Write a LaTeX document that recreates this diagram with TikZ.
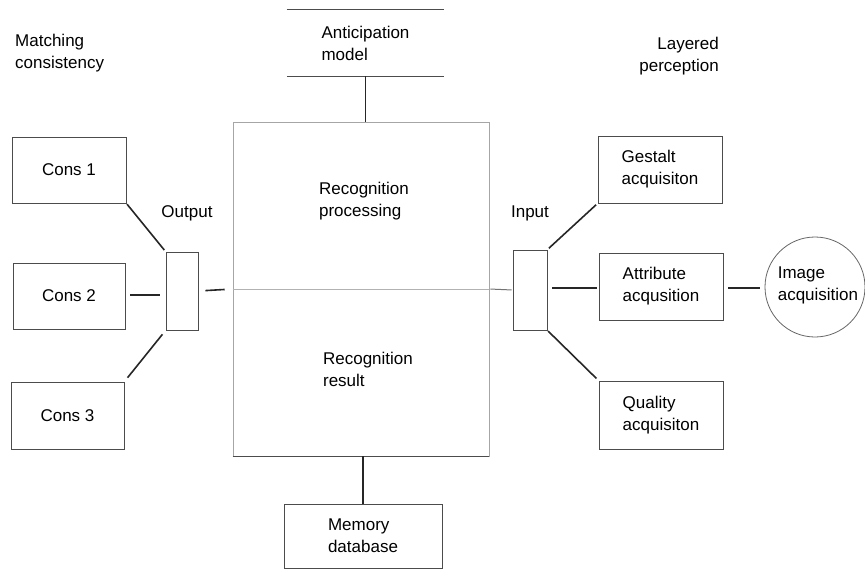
\documentclass[tikz,border=0pt]{standalone}
\usepackage{fontspec}
\setmainfont{Liberation Sans}
\begin{document}
\begin{tikzpicture}[x=1pt,y=-1pt,
  every node/.style={font=\fontsize{17}{22}\selectfont, inner sep=0pt},
  box/.style={draw=black!70, line width=0.8pt, align=left},
  conn/.style={draw=black!85, line width=1.6pt},
  thinconn/.style={draw=black!55, line width=1pt},
  lbl/.style={align=left}]
\useasboundingbox (0,0) rectangle (865,570);
% top anticipation model
\node[lbl, minimum width=157pt, minimum height=66pt] (ant) at (365.5,43) {Anticipation\\model};
\draw[black!70, line width=1pt] (ant.north west) -- (ant.north east);
\draw[black!70, line width=1pt] (ant.south west) -- (ant.south east);
% big recognition box
\node[draw=black!35, line width=0.6pt, minimum width=256pt, minimum height=334pt] (rec) at (361,289) {};
\draw[black!70, line width=1.5pt] (rec.south west) -- (rec.south east);
\draw[black!30, line width=0.6pt] (rec.west) -- (rec.east);
\node[lbl] (recp) at (364,201) {Recognition\\processing};
\node[lbl] (recr) at (368,369) {Recognition\\result};
% memory
\node[box, minimum width=158pt, minimum height=64pt] (mem) at (363,536) {Memory\\database};
% section titles
\node[lbl, anchor=west] (match) at (15,53) {Matching\\consistency};
\node[align=right, anchor=east] (layer) at (719,56) {Layered\\perception};
% cons boxes
\node[box, minimum width=114pt, minimum height=66pt] (c1) at (69,170) {Cons 1};
\node[box, minimum width=112pt, minimum height=66pt] (c2) at (69,296) {Cons 2};
\node[box, minimum width=113pt, minimum height=67pt] (c3) at (67.5,415.5) {Cons 3};
% output
\node[box, minimum width=32pt, minimum height=78pt] (out) at (182,291) {};
\node (outl) at (187,213) {Output};
% input
\node[box, minimum width=34pt, minimum height=80pt] (in) at (530,290) {};
\node (inl) at (530,213) {Input};
% right boxes
\node[box, minimum width=124pt, minimum height=67pt] (g) at (660,169.5) {Gestalt\\acquisiton};
\node[box, minimum width=124pt, minimum height=67pt] (att) at (661,286.5) {Attribute\\acqusition};
\node[box, minimum width=124pt, minimum height=68pt] (q) at (661,415) {Quality\\acquisiton};
\node[draw=black!60, line width=0.8pt, circle, minimum size=100pt] (img) at (815,287) {};
\node[lbl] (imgt) at (818,285) {Image\\acquisition};
% connectors
\draw[conn] (ant.south) -- (ant.south |- rec.north);
\draw[conn] (rec.south -| mem.north) -- (mem.north);
\draw[conn, shorten <=1pt, shorten >=2pt] (c1.south east) -- (out.north west);
\draw[conn, shorten <=5pt, shorten >=6pt] (c2.east |- 0,295) -- (out.west |- 0,295);
\draw[conn, shorten <=5pt, shorten >=5pt] (c3.north east) -- (out.south west);
\draw[conn, shorten <=7pt, shorten >=8pt] (out.east) -- (rec.west);
\draw[thinconn, shorten <=1pt, shorten >=1pt] (rec.east) -- (in.west);
\draw[conn, shorten <=2pt, shorten >=2pt] (in.north east) -- (g.south west);
\draw[conn, shorten <=5pt, shorten >=2pt] (in.east |- 0,288) -- (att.west |- 0,288);
\draw[conn, shorten <=1pt, shorten >=3pt] (in.south east) -- (q.north west);
\draw[conn, shorten <=5pt, shorten >=5pt] (att.east |- 0,288) -- (img.west |- 0,288);
\end{tikzpicture}
\end{document}
